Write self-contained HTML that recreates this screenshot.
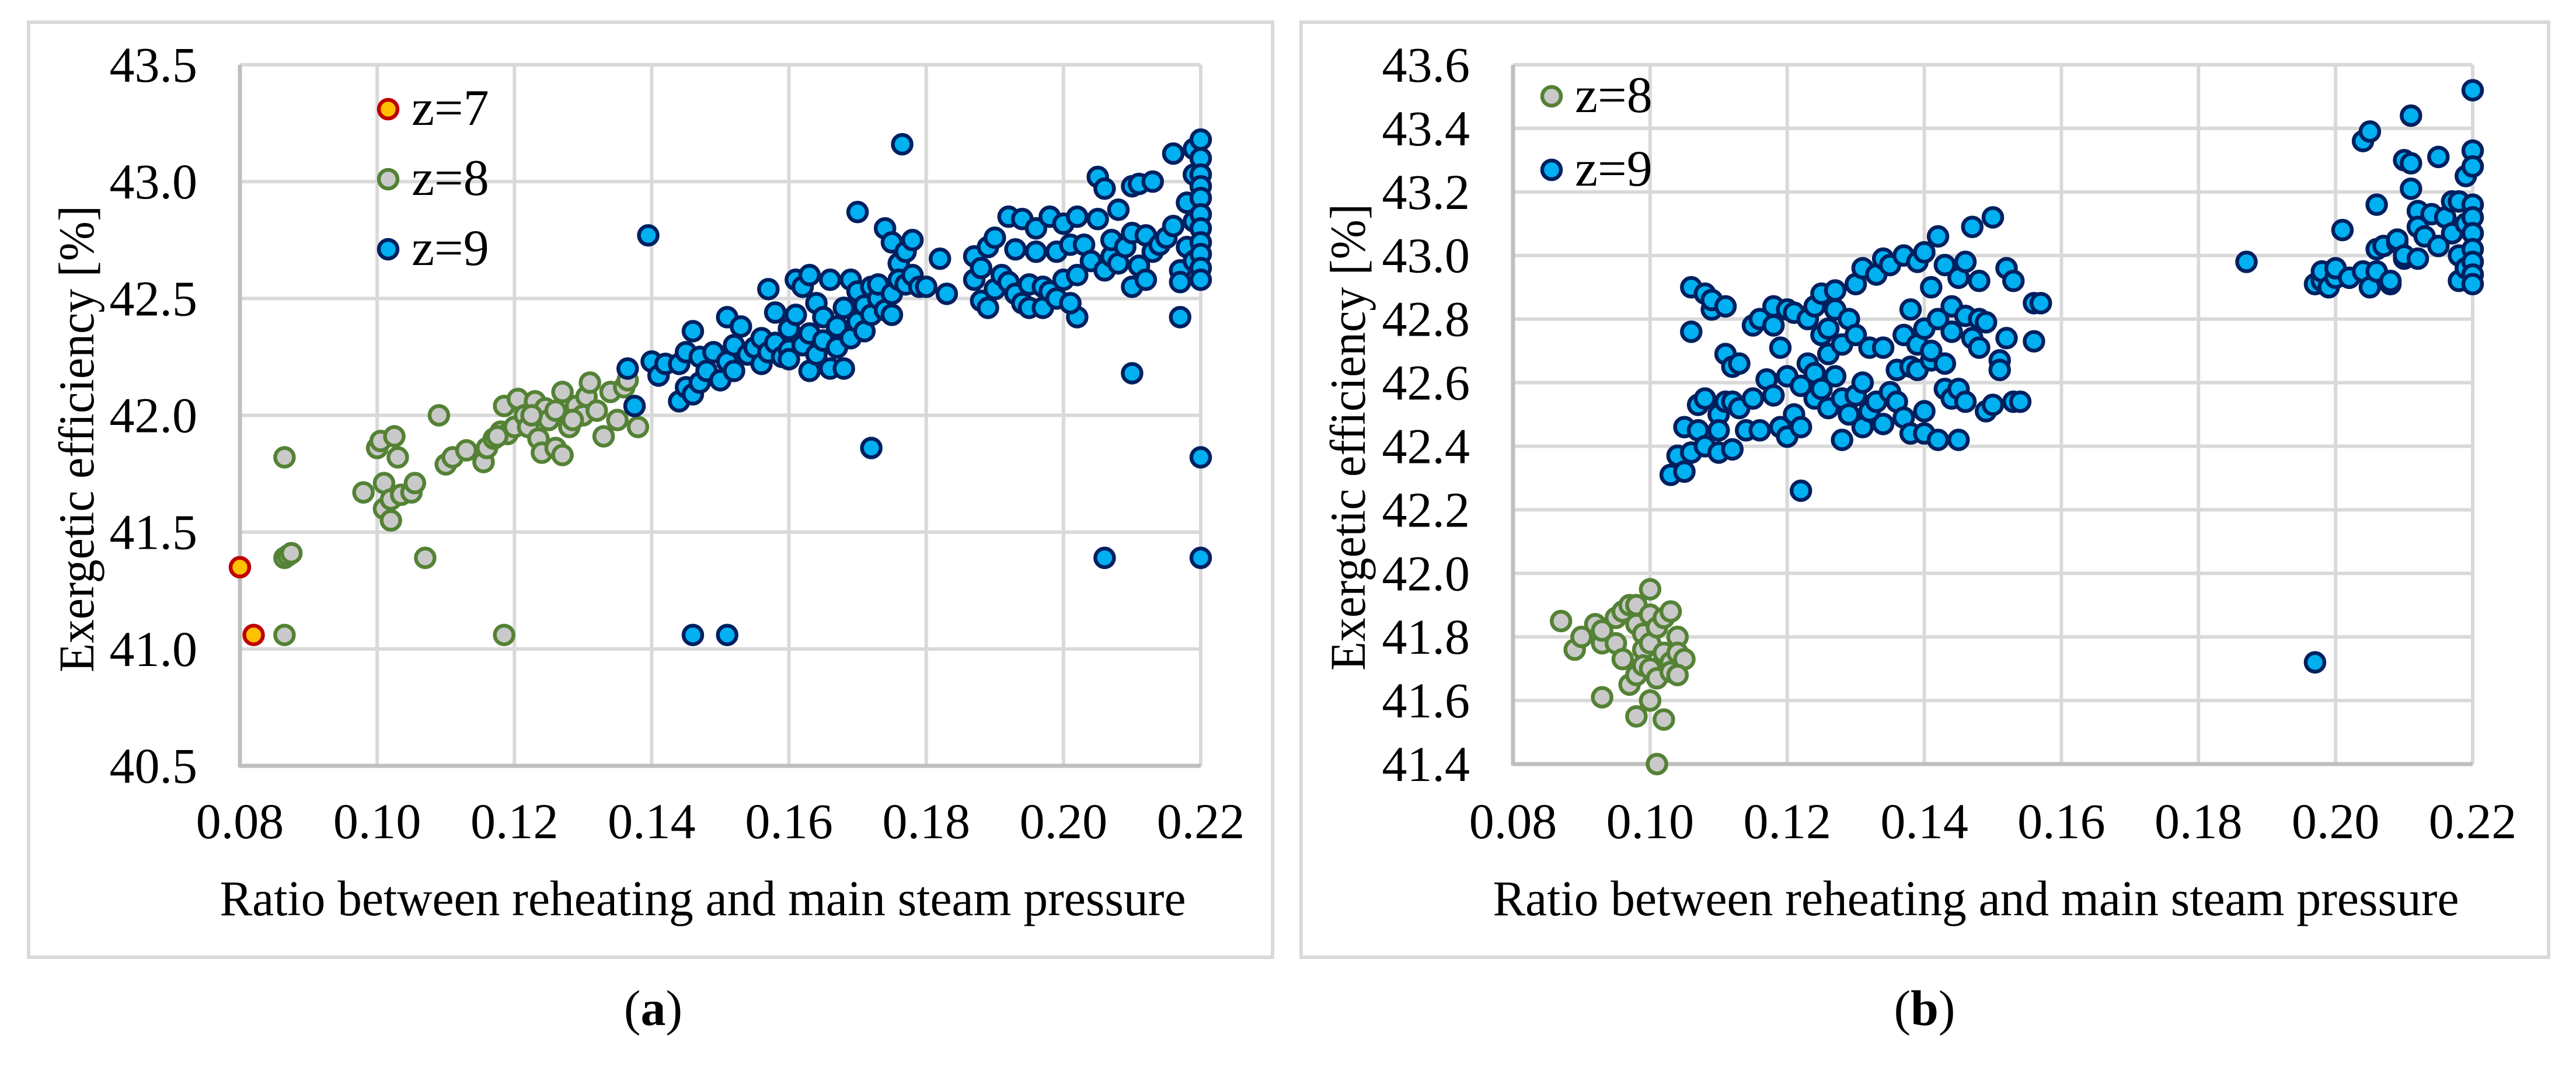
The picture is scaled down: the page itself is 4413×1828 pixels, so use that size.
<!DOCTYPE html>
<html><head><meta charset="utf-8"><style>
html,body{margin:0;padding:0;background:#fff;}
svg{display:block;font-family:"Liberation Serif",serif;}
</style></head><body>
<svg id="fig" width="4413" height="1828" viewBox="0 0 4413 1828" xmlns="http://www.w3.org/2000/svg"></svg>
<script>
// ---------- DATA ----------
const xTicks = [0.08,0.10,0.12,0.14,0.16,0.18,0.20,0.22];
const yTicksA = [40.5,41.0,41.5,42.0,42.5,43.0,43.5];
const yTicksB = [41.4,41.6,41.8,42.0,42.2,42.4,42.6,42.8,43.0,43.2,43.4,43.6];
const seriesNames = ["z=7","z=8","z=9"];
const a_z7_x = [0.080,0.082];
const a_z7_y = [41.35,41.06];
const a_z8_x = [0.0865,0.0865,0.087,0.0875,0.0865,0.098,0.100,0.1005,0.101,0.101,0.102,0.102,0.1025,0.103,0.1035,0.105,0.1055,0.107,0.109,0.110,0.111,0.113,0.1155,0.116,0.117,0.118,0.1185,0.119,0.120,0.1205,0.1215,0.122,0.123,0.1235,0.124,0.1245,0.125,0.126,0.126,0.127,0.127,0.128,0.129,0.130,0.1305,0.131,0.132,0.133,0.134,0.135,0.136,0.1365,0.138,0.1185,0.1175,0.1225,0.1285];
const a_z8_y = [41.82,41.39,41.40,41.41,41.06,41.67,41.86,41.89,41.71,41.60,41.55,41.64,41.91,41.82,41.66,41.67,41.71,41.39,42.00,41.79,41.82,41.85,41.80,41.86,41.90,41.93,42.04,41.92,41.95,42.07,42.00,41.95,42.06,41.90,41.84,42.03,41.98,42.02,41.86,41.83,42.10,41.95,42.04,42.00,42.08,42.14,42.02,41.91,42.10,41.98,42.12,42.15,41.95,41.06,41.91,42.00,41.98];
const a_z9_x = [0.1365,0.1375,0.1395,0.146,0.151,0.172,0.1765,0.206,0.220,0.220,0.210,0.217,0.202,0.170,
0.140,0.141,0.142,0.144,0.144,0.145,0.145,0.146,0.146,0.147,0.147,0.148,0.149,0.150,0.151,0.151,0.152,0.152,0.153,0.154,0.155,0.156,0.156,0.157,0.157,0.158,0.158,0.159,0.160,0.160,0.160,0.161,0.161,0.162,0.162,0.163,0.163,0.163,0.164,0.164,0.165,0.165,0.166,0.166,0.167,0.167,0.168,0.168,0.169,0.169,0.170,0.170,0.171,0.171,0.172,0.172,0.173,0.173,0.174,0.174,0.175,0.175,0.175,0.176,0.176,0.177,0.177,0.178,0.178,0.179,0.180,0.182,0.183,0.187,0.187,0.188,0.188,0.189,0.189,0.190,0.190,0.191,0.192,0.192,0.193,0.193,0.194,0.194,0.195,0.195,0.196,0.196,0.197,0.197,0.198,0.198,0.199,0.199,0.200,0.200,0.201,0.201,0.202,0.202,0.203,0.204,0.205,0.205,0.206,0.206,0.207,0.207,0.208,0.208,0.209,0.210,0.210,0.210,0.211,0.211,0.212,0.212,0.213,0.213,0.214,0.215,0.216,0.216,0.217,0.217,0.218,0.218,0.219,0.219,0.219,0.219,0.220,0.220,0.220,0.220,0.220,0.220,0.220,0.220,0.220,0.220,0.220];
const a_z9_y = [42.20,42.04,42.77,41.06,41.06,41.86,43.16,41.39,41.39,41.82,42.18,42.42,42.42,42.87,
42.23,42.17,42.22,42.06,42.22,42.27,42.12,42.36,42.09,42.25,42.14,42.19,42.27,42.15,42.23,42.42,42.30,42.19,42.38,42.26,42.29,42.22,42.33,42.54,42.27,42.44,42.31,42.25,42.28,42.37,42.24,42.43,42.58,42.30,42.55,42.60,42.35,42.19,42.48,42.26,42.42,42.32,42.58,42.20,42.38,42.29,42.20,42.46,42.33,42.58,42.53,42.40,42.47,42.36,42.55,42.43,42.50,42.56,42.45,42.80,42.52,42.43,42.74,42.65,42.58,42.70,42.56,42.75,42.60,42.55,42.55,42.67,42.52,42.68,42.58,42.49,42.63,42.46,42.72,42.76,42.54,42.60,42.57,42.85,42.52,42.71,42.48,42.84,42.46,42.56,42.80,42.70,42.55,42.46,42.85,42.53,42.50,42.70,42.58,42.82,42.73,42.48,42.60,42.85,42.73,42.66,43.02,42.84,42.62,42.97,42.68,42.75,42.88,42.65,42.72,42.78,42.98,42.55,42.99,42.64,42.58,42.77,43.00,42.70,42.73,42.76,42.81,43.12,42.62,42.57,42.72,42.91,43.03,43.14,42.83,42.66,43.18,43.10,43.03,42.98,42.93,42.86,42.80,42.74,42.69,42.63,42.58];
const b_z8_x = [0.087,0.089,0.090,0.092,0.093,0.093,0.093,0.095,0.095,0.096,0.096,0.097,0.097,0.098,0.098,0.098,0.098,0.099,0.099,0.099,0.100,0.100,0.100,0.100,0.100,0.101,0.101,0.101,0.102,0.102,0.102,0.103,0.103,0.103,0.104,0.104,0.105,0.104];
const b_z8_y = [41.85,41.76,41.80,41.84,41.78,41.82,41.61,41.78,41.86,41.73,41.88,41.65,41.90,41.68,41.55,41.90,41.84,41.81,41.76,41.71,41.95,41.87,41.60,41.70,41.78,41.83,41.67,41.40,41.54,41.75,41.86,41.72,41.88,41.69,41.80,41.75,41.73,41.68];
const b_z9_x = [0.103,0.104,0.105,0.105,0.106,0.106,0.106,0.107,0.107,0.108,0.108,0.108,0.109,0.109,0.110,0.110,0.110,0.111,0.111,0.111,0.112,0.112,0.112,0.113,0.113,0.114,0.115,0.115,0.116,0.116,0.117,0.118,0.118,0.118,0.119,0.119,0.120,0.120,0.120,0.121,0.121,0.122,0.122,0.122,0.123,0.123,0.124,0.124,0.124,0.125,0.125,0.125,0.126,0.126,0.126,0.127,0.127,0.127,0.128,0.128,0.128,0.129,0.129,0.130,0.130,0.130,0.131,0.131,0.131,0.132,0.132,0.133,0.133,0.134,0.134,0.134,0.135,0.135,0.136,0.136,0.137,0.137,0.137,0.138,0.138,0.138,0.139,0.139,0.139,0.140,0.140,0.140,0.140,0.141,0.141,0.141,0.142,0.142,0.142,0.143,0.143,0.143,0.144,0.144,0.144,0.145,0.145,0.145,0.146,0.146,0.146,0.147,0.147,0.148,0.148,0.148,0.149,0.149,0.150,0.150,0.151,0.151,0.152,0.152,0.153,0.153,0.154,0.156,0.156,0.157,
0.187,0.197,0.197,0.198,0.198,0.199,0.200,0.200,0.201,0.202,0.204,0.204,0.205,0.205,0.206,0.206,0.206,0.207,0.208,0.208,0.209,0.209,0.210,0.210,0.210,0.211,0.211,0.211,0.212,0.212,0.212,0.213,0.214,0.215,0.215,0.216,0.217,0.217,0.218,0.218,0.218,0.219,0.219,0.219,0.220,0.220,0.220,0.220,0.220,0.220,0.220,0.220,0.220,0.220];
const b_z9_y = [42.31,42.37,42.46,42.32,42.76,42.38,42.90,42.45,42.53,42.55,42.88,42.40,42.83,42.86,42.50,42.38,42.45,42.54,42.84,42.69,42.54,42.65,42.39,42.66,42.52,42.45,42.55,42.78,42.80,42.45,42.61,42.56,42.84,42.78,42.46,42.71,42.43,42.62,42.83,42.50,42.82,42.26,42.46,42.59,42.66,42.80,42.55,42.84,42.63,42.75,42.88,42.58,42.69,42.52,42.77,42.62,42.89,42.83,42.72,42.55,42.42,42.80,42.50,42.75,42.56,42.91,42.46,42.60,42.96,42.51,42.71,42.54,42.94,42.47,42.71,42.99,42.97,42.57,42.64,42.54,42.75,43.00,42.49,42.83,42.65,42.44,42.72,42.98,42.64,42.51,43.01,42.77,42.44,42.67,42.90,42.70,43.06,42.42,42.80,42.66,42.97,42.58,42.84,42.76,42.55,42.42,42.93,42.58,42.81,42.98,42.54,42.74,43.09,42.80,42.92,42.71,42.51,42.79,43.12,42.53,42.67,42.64,42.74,42.96,42.92,42.54,42.54,42.73,42.85,42.85,
42.98,41.72,42.91,42.92,42.95,42.90,42.93,42.96,43.08,42.93,43.36,42.95,43.39,42.90,42.95,43.16,43.02,43.03,42.91,42.92,43.04,43.05,42.99,43.30,43.00,43.44,43.29,43.21,43.14,43.09,42.99,43.06,43.13,43.31,43.03,43.12,43.17,43.07,43.00,42.92,43.17,43.10,43.25,42.96,43.52,43.33,43.28,43.16,43.12,43.07,43.02,42.98,42.94,42.91];

// ---------- DRAW ----------
const NS="http://www.w3.org/2000/svg";
const svg=document.getElementById('fig');
function mk(tag,attrs,parent){const e=document.createElementNS(NS,tag);for(const k in attrs)e.setAttribute(k,attrs[k]);(parent||svg).appendChild(e);return e;}
const styles={
 "z=7":{fill:"#FFC000",stroke:"#C00000"},
 "z=8":{fill:"#C9C9C9",stroke:"#548235"},
 "z=9":{fill:"#00B0F0",stroke:"#002060"}
};
function drawChart(cfg){
 const g=mk('g',{});
 
 
 const box=mk('rect',{x:cfg.box[0],y:cfg.box[1],width:cfg.box[2]-cfg.box[0],height:cfg.box[3]-cfg.box[1],fill:'#fff',stroke:'#D9D9D9','stroke-width':6},g);
 
 
 const xs=v=>cfg.x0+(v-cfg.xmin)/(cfg.xmax-cfg.xmin)*(cfg.x1-cfg.x0);
 const ys=v=>cfg.y0-(v-cfg.ymin)/(cfg.ymax-cfg.ymin)*(cfg.y0-cfg.y1);
 // gridlines
 cfg.yTicks.forEach((t,i)=>{
  if(i>0){const l=mk('line',{x1:cfg.x0,x2:cfg.x1,y1:ys(t),y2:ys(t),stroke:'#D9D9D9','stroke-width':6},g);
   
   }
  const tx=mk('text',{x:cfg.ylabX,y:ys(t)+29,'font-size':86,'text-anchor':'end',fill:'#000'},g);
  tx.textContent=t.toFixed(1);
  
  
 });
 cfg.xTicks.forEach((t,i)=>{
  if(i>0){const l=mk('line',{x1:xs(t),x2:xs(t),y1:cfg.y0,y2:cfg.y1,stroke:'#D9D9D9','stroke-width':6},g);
   
   }
  const tx=mk('text',{x:xs(t),y:cfg.xlabY,'font-size':86,'text-anchor':'middle',fill:'#000'},g);
  tx.textContent=t.toFixed(2);
  
  
 });
 const ax=mk('line',{x1:cfg.x0,x2:cfg.x0,y1:cfg.y0+3,y2:cfg.y1,stroke:'#BFBFBF','stroke-width':7},g);
 
 
 const axx=mk('line',{x1:cfg.x0,x2:cfg.x1,y1:cfg.y0,y2:cfg.y0,stroke:'#BFBFBF','stroke-width':7},g);
 
 
 // series
 cfg.series.forEach(s=>{
  const sg=mk('g',{},g);
  
  
  s.x.forEach((xv,i)=>{
   const c=mk('circle',{cx:xs(xv),cy:ys(s.y[i]),r:16,fill:styles[s.name].fill,stroke:styles[s.name].stroke,'stroke-width':6.5},sg);
   
   
  });
 });
 // legend
 cfg.series.forEach((s,i)=>{
  const ly=cfg.legY[i];
  const c=mk('circle',{cx:cfg.legX,cy:ly,r:16,fill:styles[s.name].fill,stroke:styles[s.name].stroke,'stroke-width':6.5},g);
  
  
  const t=mk('text',{x:cfg.legX+40,y:ly+27,'font-size':88,fill:'#000'},g);
  t.textContent=s.name;
  
  
 });
 const yt=mk('text',{x:0,y:0,'font-size':86,'text-anchor':'middle',fill:'#000',transform:`translate(${cfg.ytX},${cfg.ytY}) rotate(-90)`,textLength:800,lengthAdjust:'spacingAndGlyphs'},g);
 yt.textContent='Exergetic efficiency [%]';
 
 
 const xt=mk('text',{x:cfg.xtX,y:1568,'font-size':86,'text-anchor':'middle',fill:'#000',textLength:1655,lengthAdjust:'spacingAndGlyphs'},g);
 xt.textContent='Ratio between reheating and main steam pressure';
 
 
 const cap=mk('text',{x:cfg.capX,y:1756,'font-size':86,'text-anchor':'middle',fill:'#000'},g);
 cap.innerHTML='(<tspan font-weight="bold">'+cfg.cap+'</tspan>)';
 
 
}
drawChart({id:'chart-a',box:[49,38,2180,1640],x0:411,x1:2057,y0:1312,y1:111,xmin:0.08,xmax:0.22,ymin:40.5,ymax:43.5,
 xTicks:xTicks,yTicks:yTicksA,ylabX:338,xlabY:1436,legX:665,legY:[187,307,427],ytX:160,ytY:752,xtX:1204,capX:1119,cap:'a',
 series:[{name:'z=7',x:a_z7_x,y:a_z7_y},{name:'z=8',x:a_z8_x,y:a_z8_y},{name:'z=9',x:a_z9_x,y:a_z9_y}]});
drawChart({id:'chart-b',box:[2229,38,4366,1640],x0:2592,x1:4236,y0:1309,y1:111,xmin:0.08,xmax:0.22,ymin:41.4,ymax:43.6,
 xTicks:xTicks,yTicks:yTicksB,ylabX:2518,xlabY:1436,legX:2658,legY:[165,291],ytX:2338,ytY:749,xtX:3385,capX:3297,cap:'b',
 series:[{name:'z=8',x:b_z8_x,y:b_z8_y},{name:'z=9',x:b_z9_x,y:b_z9_y}]});
</script>
</body></html>
